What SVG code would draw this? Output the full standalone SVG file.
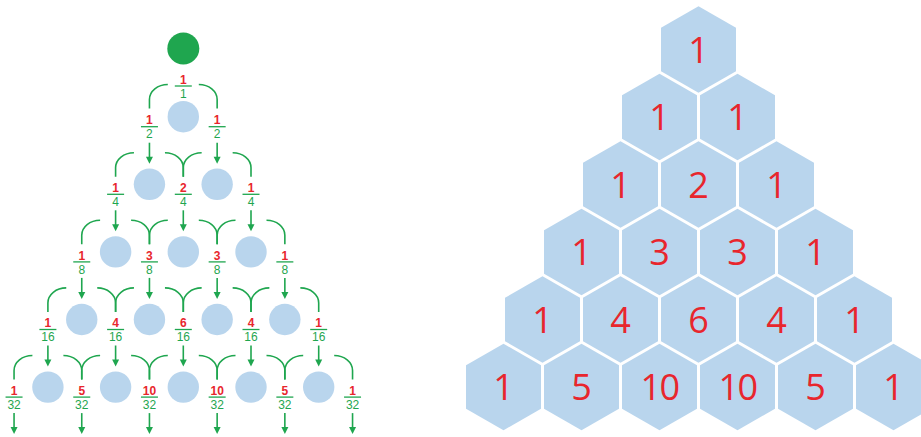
<svg xmlns="http://www.w3.org/2000/svg" xmlns:xlink="http://www.w3.org/1999/xlink" width="921" height="437" viewBox="0 0 921 437">
<style>
.bc{fill:#b9d5ed}
.gc{fill:#1fa64f}
.hx{fill:#b9d5ed}
.hn{font-family:"Open Sans","Noto Sans",sans-serif;font-size:36px;fill:#e8262d;text-anchor:middle}
.num{font-family:"Liberation Sans",Arial,sans-serif;font-size:12px;font-weight:bold;fill:#e8262d;text-anchor:middle}
.den{font-family:"Liberation Sans",Arial,sans-serif;font-size:12px;fill:#1fa64f;text-anchor:middle}
.bar{stroke:#1fa64f;stroke-width:1.3}
.ln{fill:none;stroke:#1fa64f;stroke-width:1.6}
.ah{fill:#1fa64f}
</style>
<defs>
<polygon id="hex" points="0,-43.3 37.5,-21.65 37.5,21.65 0,43.3 -37.5,21.65 -37.5,-21.65"/>
<path id="split" d="M-15.5,0 A18.35,15 0 0 0 -33.85,15 V24 M15.5,0 A18.35,15 0 0 1 33.85,15 V24"/>
<g id="arr"><path d="M0,16 V31" class="ln"/><path d="M-3.5,30 H3.5 L0,37 Z" class="ah"/></g>
<line id="fbar" x1="-8.5" y1="0" x2="8.5" y2="0"/>
</defs>
<rect width="921" height="437" fill="#ffffff"/>

<g id="connectors">
<g class="ln">
<use href="#split" x="183.3" y="84.5"/>
<use href="#split" x="149.45" y="152.7"/>
<use href="#split" x="217.15" y="152.7"/>
<use href="#split" x="115.6" y="220.3"/>
<use href="#split" x="183.3" y="220.3"/>
<use href="#split" x="251" y="220.3"/>
<use href="#split" x="81.75" y="287.9"/>
<use href="#split" x="149.45" y="287.9"/>
<use href="#split" x="217.15" y="287.9"/>
<use href="#split" x="284.85" y="287.9"/>
<use href="#split" x="47.9" y="355.5"/>
<use href="#split" x="115.6" y="355.5"/>
<use href="#split" x="183.3" y="355.5"/>
<use href="#split" x="251" y="355.5"/>
<use href="#split" x="318.7" y="355.5"/>
</g>
<use href="#arr" x="149.45" y="126.7"/>
<use href="#arr" x="217.15" y="126.7"/>
<use href="#arr" x="115.6" y="194.3"/>
<use href="#arr" x="183.3" y="194.3"/>
<use href="#arr" x="251" y="194.3"/>
<use href="#arr" x="81.75" y="261.9"/>
<use href="#arr" x="149.45" y="261.9"/>
<use href="#arr" x="217.15" y="261.9"/>
<use href="#arr" x="284.85" y="261.9"/>
<use href="#arr" x="47.9" y="329.5"/>
<use href="#arr" x="115.6" y="329.5"/>
<use href="#arr" x="183.3" y="329.5"/>
<use href="#arr" x="251" y="329.5"/>
<use href="#arr" x="318.7" y="329.5"/>
<use href="#arr" x="14.05" y="397.1"/>
<use href="#arr" x="81.75" y="397.1"/>
<use href="#arr" x="149.45" y="397.1"/>
<use href="#arr" x="217.15" y="397.1"/>
<use href="#arr" x="284.85" y="397.1"/>
<use href="#arr" x="352.55" y="397.1"/>
</g>

<g id="ball-start"><circle class="gc" cx="183.3" cy="48.5" r="16"/></g>
<g id="circles">
<circle id="c1-1" class="bc" cx="183.3" cy="116.7" r="15.7"/>
<circle id="c2-1" class="bc" cx="149.45" cy="184.3" r="15.7"/>
<circle id="c2-2" class="bc" cx="217.15" cy="184.3" r="15.7"/>
<circle id="c3-1" class="bc" cx="115.6" cy="251.9" r="15.7"/>
<circle id="c3-2" class="bc" cx="183.3" cy="251.9" r="15.7"/>
<circle id="c3-3" class="bc" cx="251" cy="251.9" r="15.7"/>
<circle id="c4-1" class="bc" cx="81.75" cy="319.5" r="15.7"/>
<circle id="c4-2" class="bc" cx="149.45" cy="319.5" r="15.7"/>
<circle id="c4-3" class="bc" cx="217.15" cy="319.5" r="15.7"/>
<circle id="c4-4" class="bc" cx="284.85" cy="319.5" r="15.7"/>
<circle id="c5-1" class="bc" cx="47.9" cy="387.1" r="15.7"/>
<circle id="c5-2" class="bc" cx="115.6" cy="387.1" r="15.7"/>
<circle id="c5-3" class="bc" cx="183.3" cy="387.1" r="15.7"/>
<circle id="c5-4" class="bc" cx="251" cy="387.1" r="15.7"/>
<circle id="c5-5" class="bc" cx="318.7" cy="387.1" r="15.7"/>
</g>

<g id="fractions">
<g id="f1-1" transform="translate(183.3,86)"><text class="num" y="-2.3">1</text><use href="#fbar" class="bar"/><text class="den" y="11.8">1</text></g>
<g id="f2-1" transform="translate(149.45,126.7)"><text class="num" y="-2.3">1</text><use href="#fbar" class="bar"/><text class="den" y="11.8">2</text></g>
<g id="f2-2" transform="translate(217.15,126.7)"><text class="num" y="-2.3">1</text><use href="#fbar" class="bar"/><text class="den" y="11.8">2</text></g>
<g id="f3-1" transform="translate(115.6,194.3)"><text class="num" y="-2.3">1</text><use href="#fbar" class="bar"/><text class="den" y="11.8">4</text></g>
<g id="f3-2" transform="translate(183.3,194.3)"><text class="num" y="-2.3">2</text><use href="#fbar" class="bar"/><text class="den" y="11.8">4</text></g>
<g id="f3-3" transform="translate(251,194.3)"><text class="num" y="-2.3">1</text><use href="#fbar" class="bar"/><text class="den" y="11.8">4</text></g>
<g id="f4-1" transform="translate(81.75,261.9)"><text class="num" y="-2.3">1</text><use href="#fbar" class="bar"/><text class="den" y="11.8">8</text></g>
<g id="f4-2" transform="translate(149.45,261.9)"><text class="num" y="-2.3">3</text><use href="#fbar" class="bar"/><text class="den" y="11.8">8</text></g>
<g id="f4-3" transform="translate(217.15,261.9)"><text class="num" y="-2.3">3</text><use href="#fbar" class="bar"/><text class="den" y="11.8">8</text></g>
<g id="f4-4" transform="translate(284.85,261.9)"><text class="num" y="-2.3">1</text><use href="#fbar" class="bar"/><text class="den" y="11.8">8</text></g>
<g id="f5-1" transform="translate(47.9,329.5)"><text class="num" y="-2.3">1</text><use href="#fbar" class="bar"/><text class="den" y="11.8">16</text></g>
<g id="f5-2" transform="translate(115.6,329.5)"><text class="num" y="-2.3">4</text><use href="#fbar" class="bar"/><text class="den" y="11.8">16</text></g>
<g id="f5-3" transform="translate(183.3,329.5)"><text class="num" y="-2.3">6</text><use href="#fbar" class="bar"/><text class="den" y="11.8">16</text></g>
<g id="f5-4" transform="translate(251,329.5)"><text class="num" y="-2.3">4</text><use href="#fbar" class="bar"/><text class="den" y="11.8">16</text></g>
<g id="f5-5" transform="translate(318.7,329.5)"><text class="num" y="-2.3">1</text><use href="#fbar" class="bar"/><text class="den" y="11.8">16</text></g>
<g id="f6-1" transform="translate(14.05,397.1)"><text class="num" y="-2.3">1</text><use href="#fbar" class="bar"/><text class="den" y="11.8">32</text></g>
<g id="f6-2" transform="translate(81.75,397.1)"><text class="num" y="-2.3">5</text><use href="#fbar" class="bar"/><text class="den" y="11.8">32</text></g>
<g id="f6-3" transform="translate(149.45,397.1)"><text class="num" y="-2.3">10</text><use href="#fbar" class="bar"/><text class="den" y="11.8">32</text></g>
<g id="f6-4" transform="translate(217.15,397.1)"><text class="num" y="-2.3">10</text><use href="#fbar" class="bar"/><text class="den" y="11.8">32</text></g>
<g id="f6-5" transform="translate(284.85,397.1)"><text class="num" y="-2.3">5</text><use href="#fbar" class="bar"/><text class="den" y="11.8">32</text></g>
<g id="f6-6" transform="translate(352.55,397.1)"><text class="num" y="-2.3">1</text><use href="#fbar" class="bar"/><text class="den" y="11.8">32</text></g>
</g>

<g id="hexes">
<g id="h0-0" transform="translate(698.5,49.5)"><use href="#hex" class="hx"/><text class="hn" y="13">1</text></g>
<g id="h1-0" transform="translate(659.5,117)"><use href="#hex" class="hx"/><text class="hn" y="13">1</text></g>
<g id="h1-1" transform="translate(737.5,117)"><use href="#hex" class="hx"/><text class="hn" y="13">1</text></g>
<g id="h2-0" transform="translate(620.5,184.5)"><use href="#hex" class="hx"/><text class="hn" y="13">1</text></g>
<g id="h2-1" transform="translate(698.5,184.5)"><use href="#hex" class="hx"/><text class="hn" y="13">2</text></g>
<g id="h2-2" transform="translate(776.5,184.5)"><use href="#hex" class="hx"/><text class="hn" y="13">1</text></g>
<g id="h3-0" transform="translate(581.5,252)"><use href="#hex" class="hx"/><text class="hn" y="13">1</text></g>
<g id="h3-1" transform="translate(659.5,252)"><use href="#hex" class="hx"/><text class="hn" y="13">3</text></g>
<g id="h3-2" transform="translate(737.5,252)"><use href="#hex" class="hx"/><text class="hn" y="13">3</text></g>
<g id="h3-3" transform="translate(815.5,252)"><use href="#hex" class="hx"/><text class="hn" y="13">1</text></g>
<g id="h4-0" transform="translate(542.5,319.5)"><use href="#hex" class="hx"/><text class="hn" y="13">1</text></g>
<g id="h4-1" transform="translate(620.5,319.5)"><use href="#hex" class="hx"/><text class="hn" y="13">4</text></g>
<g id="h4-2" transform="translate(698.5,319.5)"><use href="#hex" class="hx"/><text class="hn" y="13">6</text></g>
<g id="h4-3" transform="translate(776.5,319.5)"><use href="#hex" class="hx"/><text class="hn" y="13">4</text></g>
<g id="h4-4" transform="translate(854.5,319.5)"><use href="#hex" class="hx"/><text class="hn" y="13">1</text></g>
<g id="h5-0" transform="translate(503.5,387)"><use href="#hex" class="hx"/><text class="hn" y="13">1</text></g>
<g id="h5-1" transform="translate(581.5,387)"><use href="#hex" class="hx"/><text class="hn" y="13">5</text></g>
<g id="h5-2" transform="translate(659.5,387)"><use href="#hex" class="hx"/><text class="hn" y="13" letter-spacing="-1.5">10</text></g>
<g id="h5-3" transform="translate(737.5,387)"><use href="#hex" class="hx"/><text class="hn" y="13" letter-spacing="-1.5">10</text></g>
<g id="h5-4" transform="translate(815.5,387)"><use href="#hex" class="hx"/><text class="hn" y="13">5</text></g>
<g id="h5-5" transform="translate(893.5,387)"><use href="#hex" class="hx"/><text class="hn" y="13">1</text></g>
</g>
</svg>
